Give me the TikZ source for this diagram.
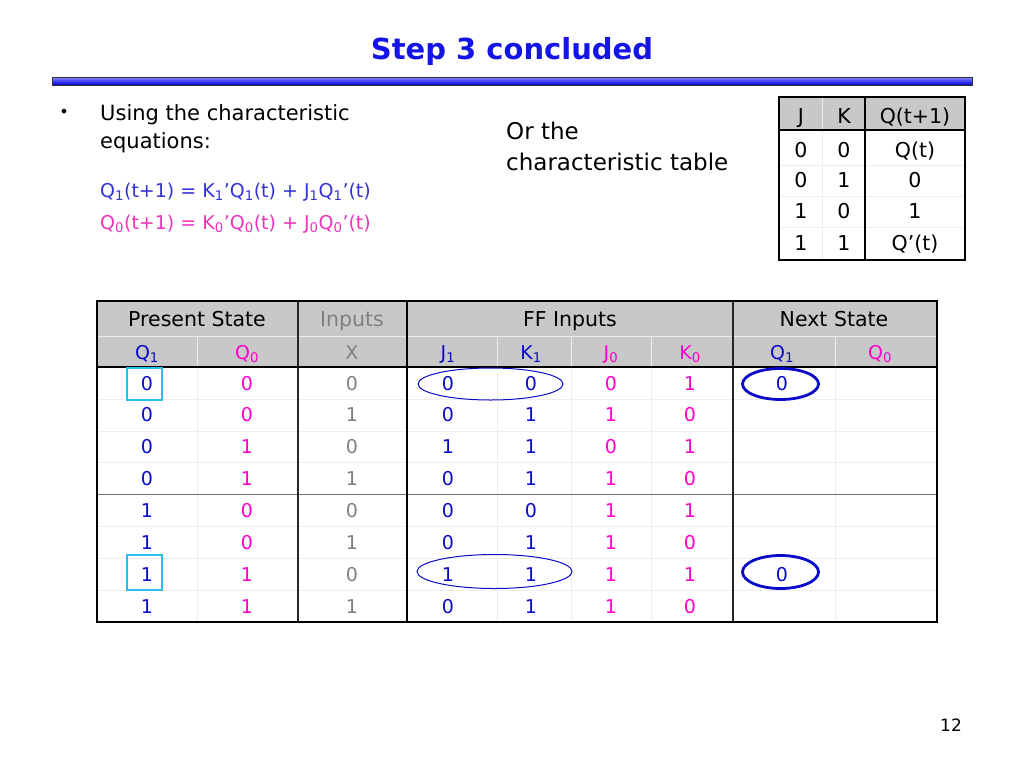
\documentclass[tikz,border=0pt]{standalone}
\usepackage{fontspec}
\setmainfont{DejaVu Sans}
\definecolor{tblue}{RGB}{10,10,200}
\definecolor{eqblue}{RGB}{50,50,215}
\definecolor{tmag}{RGB}{255,0,204}
\definecolor{eqmag}{RGB}{240,50,190}
\definecolor{tgray}{RGB}{128,128,128}
\definecolor{hdrfill}{RGB}{200,200,200}
\definecolor{tcyan}{RGB}{40,190,240}
\definecolor{titleblue}{RGB}{20,20,230}
\tikzset{
  cell/.style={inner sep=0pt, text height=14pt, text depth=0pt, font=\fontsize{19}{22}\selectfont},
  hcell/.style={cell, text height=15pt, font=\fontsize{20.5}{24}\selectfont},
  txt/.style={inner sep=0pt, anchor=west, text height=15pt, text depth=0pt, font=\fontsize{21}{25}\selectfont},
  thickline/.style={line width=2.8pt, black},
  thinline/.style={line width=1.2pt, black!85},
  faint/.style={line width=0.5pt, black!7},
  oval/.style={draw=tblue, line width=1pt},
  ovalthick/.style={draw=tblue, line width=2.8pt},
  cbox/.style={draw=tcyan, line width=1.8pt}
}
\begin{document}
\begin{tikzpicture}[x=1pt,y=-1pt]
\useasboundingbox (0,0) rectangle (1024,768);
% title
\node[inner sep=0pt, font=\fontsize{29}{34}\selectfont\bfseries, text=titleblue] (title) at (512,51) {Step 3 concluded};
\shade[top color=blue!45!white, bottom color=blue!75!black, middle color=blue!75!white] (52,77) rectangle (972,85);
\draw[line width=1pt, black!80] (52,77) rectangle (972,85);
% bullet text
\node[inner sep=0pt, font=\fontsize{16}{16}\selectfont] (bullet) at (64,113) {•};
\node[txt] (l1) at (100,113) {Using the characteristic};
\node[txt] (l2) at (100,141) {equations:};
\node[txt, font=\fontsize{19}{23}\selectfont, text height=14pt, text=eqblue] (eq1) at (100,190) {Q\textsubscript{1}(t+1) = K\textsubscript{1}’Q\textsubscript{1}(t) + J\textsubscript{1}Q\textsubscript{1}’(t)};
\node[txt, font=\fontsize{19}{23}\selectfont, text height=14pt, text=eqmag] (eq2) at (100,222) {Q\textsubscript{0}(t+1) = K\textsubscript{0}’Q\textsubscript{0}(t) + J\textsubscript{0}Q\textsubscript{0}’(t)};
\node[txt, font=\fontsize{23}{27}\selectfont, text height=17pt] (or1) at (506,131) {Or the};
\node[txt, font=\fontsize{23}{27}\selectfont, text height=17pt] (or2) at (506,162) {characteristic table};
% characteristic table
\fill[hdrfill] (779,97) rectangle (965,130);
\foreach \y in {165,196,227} \draw[faint] (779,\y) -- (965,\y);
\draw[faint] (822,97) -- (822,260);
\draw[thickline] (779,130) -- (965,130);
\draw[thickline] (865,97) -- (865,260);
\draw[thickline] (779,97) rectangle (965,260);
\node[hcell] (cj) at (801,116) {J};
\node[hcell] (ck) at (844,116) {K};
\node[hcell] (cq) at (915,116) {Q(t+1)};
\node[hcell] (j1) at (801,150) {0}; \node[hcell] (k1) at (844,150) {0}; \node[hcell] (q1) at (915,150) {Q(t)};
\node[hcell] (j2) at (801,180) {0}; \node[hcell] (k2) at (844,180) {1}; \node[hcell] (q2) at (915,180) {0};
\node[hcell] (j3) at (801,211) {1}; \node[hcell] (k3) at (844,211) {0}; \node[hcell] (q3) at (915,211) {1};
\node[hcell] (j4) at (801,243) {1}; \node[hcell] (k4) at (844,243) {1}; \node[hcell] (q4) at (915,243) {Q’(t)};
% main table
\fill[hdrfill] (97,301) rectangle (937,367);
\foreach \x in {197,497,571,651,835} \draw[faint] (\x,336) -- (\x,622);
\foreach \i in {1,...,7} \draw[faint] (97,{367+31.9*\i}) -- (937,{367+31.9*\i});
\draw[faint] (97,336) -- (937,336);
\draw[line width=1.2pt, black!55] (97,494.6) -- (937,494.6);
\draw[thinline] (298,301) -- (298,622);
\draw[thinline] (733,301) -- (733,622);
\draw[thickline] (407,301) -- (407,622);
\draw[thickline] (97,367) -- (937,367);
\draw[thickline] (97,301) rectangle (937,622);
% headers
\node[hcell] (hps) at (197,319) {Present State};
\node[hcell, text=tgray] (hin) at (352,319) {Inputs};
\node[hcell] (hff) at (570,319) {FF Inputs};
\node[hcell] (hns) at (834,319) {Next State};
\node[cell, text=tblue] (hq1) at (147,352) {Q\textsubscript{1}};
\node[cell, text=tmag] (hq0) at (247,352) {Q\textsubscript{0}};
\node[cell, text=tgray] (hx) at (352,352) {X};
\node[cell, text=tblue] (hj1) at (448,352) {J\textsubscript{1}};
\node[cell, text=tblue] (hk1) at (531,352) {K\textsubscript{1}};
\node[cell, text=tmag] (hj0) at (611,352) {J\textsubscript{0}};
\node[cell, text=tmag] (hk0) at (690,352) {K\textsubscript{0}};
\node[cell, text=tblue] (hn1) at (782,352) {Q\textsubscript{1}};
\node[cell, text=tmag] (hn0) at (880,352) {Q\textsubscript{0}};
% rows
\foreach \r/\a/\b/\c/\d/\e/\f/\g in {1/0/0/0/0/0/0/1,2/0/0/1/0/1/1/0,3/0/1/0/1/1/0/1,4/0/1/1/0/1/1/0,5/1/0/0/0/0/1/1,6/1/0/1/0/1/1/0,7/1/1/0/1/1/1/1,8/1/1/1/0/1/1/0}{
  \pgfmathsetmacro{\yy}{383+31.9*(\r-1)}
  \node[cell, text=tblue] (a\r) at (147,\yy) {\a};
  \node[cell, text=tmag] (b\r) at (247,\yy) {\b};
  \node[cell, text=tgray] (c\r) at (352,\yy) {\c};
  \node[cell, text=tblue] (d\r) at (448,\yy) {\d};
  \node[cell, text=tblue] (e\r) at (531,\yy) {\e};
  \node[cell, text=tmag] (f\r) at (611,\yy) {\f};
  \node[cell, text=tmag] (g\r) at (690,\yy) {\g};
}
\node[cell, text=tblue] (n1) at (782,383) {0};
\node[cell, text=tblue] (n7) at (782,574.3) {0};
% highlights
\draw[cbox] (127,368) rectangle (162,400);
\draw[cbox] (127,555) rectangle (162,590);
\draw[oval] (490.5,384) ellipse [x radius=72.5, y radius=16];
\draw[oval] (494.5,571.5) ellipse [x radius=77.5, y radius=17];
\draw[ovalthick] (780.5,384) ellipse [x radius=38, y radius=15.5];
\draw[ovalthick] (780.5,572) ellipse [x radius=38, y radius=16.5];
% page number
\node[inner sep=0pt, font=\fontsize{17}{20}\selectfont] (pg) at (951,725) {12};
\end{tikzpicture}
\end{document}
